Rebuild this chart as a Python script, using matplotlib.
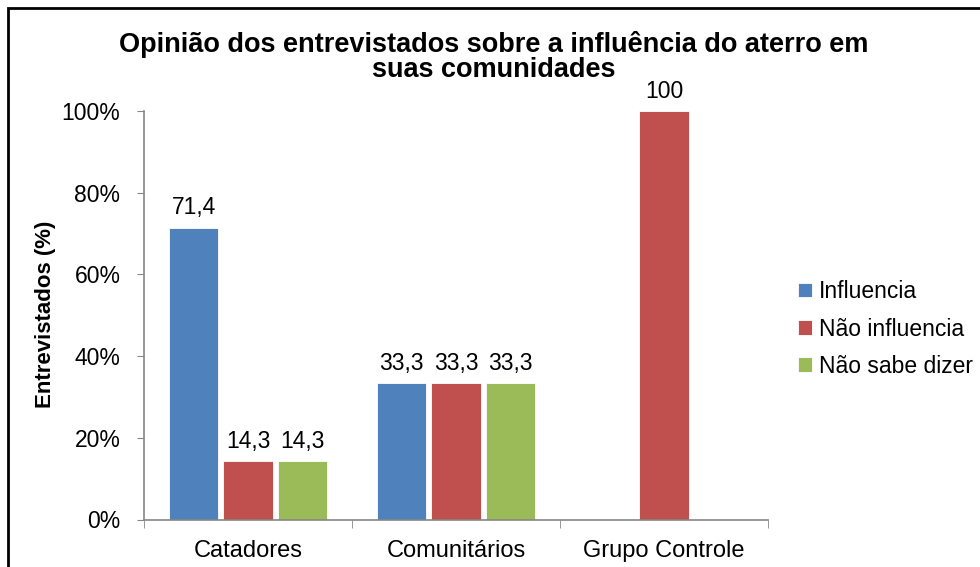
import matplotlib
matplotlib.use("Agg")
import matplotlib.pyplot as plt
from matplotlib.patches import Rectangle
import numpy as np

plt.rcParams['font.family'] = ['Liberation Sans', 'DejaVu Sans']

# dados
categorias = ['Catadores', 'Comunitários', 'Grupo Controle']
series = ['Influencia', 'Não influencia', 'Não sabe dizer']
influencia = [71.4, 33.3, 0]
nao_influencia = [14.3, 33.3, 100]
nao_sabe = [14.3, 33.3, 0]
rotulos_y = ['0%', '20%', '40%', '60%', '80%', '100%']
titulo = ['Opinião dos entrevistados sobre a influência do aterro em', 'suas comunidades']

cores = ['#4F81BD', '#C0504D', '#9BBB59']

fig = plt.figure(figsize=(9.8, 5.67), dpi=100)
ax = fig.add_axes([144 / 980, 1 - 519.5 / 567, (768 - 144) / 980, (519.5 - 111) / 567])

x = np.arange(len(categorias))
passo = 0.262
largura = 0.24

for i, (nome, vals) in enumerate(zip(series, [influencia, nao_influencia, nao_sabe])):
    barras = ax.bar(x + (i - 1) * passo, vals, largura, color=cores[i], label=nome,
                    edgecolor='white', linewidth=0.6)
    for b, v in zip(barras, vals):
        if v > 0:
            txt = ('%.1f' % v).replace('.', ',') if v != int(v) else '%d' % v
            ax.annotate(txt, (b.get_x() + b.get_width() / 2, v), xytext=(0, 6),
                        textcoords='offset points', ha='center', va='bottom', fontsize=16.5)

ax.set_xlim(-0.5, 2.5)
ax.set_ylim(0, 100)
ax.set_yticks(np.arange(0, 101, 20))
ax.set_yticklabels(rotulos_y, fontsize=16.5)
ax.set_xticks(x)
ax.set_xticklabels(categorias, fontsize=17)
ax.set_xticks([-0.5, 0.5, 1.5, 2.5], minor=True)
ax.tick_params(axis='x', which='major', length=0, pad=15)
ax.tick_params(axis='x', which='minor', length=6, color='#868686')
ax.tick_params(axis='y', length=5, color='#868686', pad=12)

for s in ['top', 'right']:
    ax.spines[s].set_visible(False)
for s in ['left', 'bottom']:
    ax.spines[s].set_color('#868686')
    ax.spines[s].set_linewidth(1.2)

fig.text(46 / 980, 1 - 314 / 567, 'Entrevistados (%)', rotation=90, ha='center', va='center',
         fontsize=16, fontweight='bold')

# título em duas linhas
fig.text(494 / 980, 1 - 45 / 567, titulo[0], ha='center', va='center',
         fontsize=19.5, fontweight='bold')
fig.text(494 / 980, 1 - 70 / 567, titulo[1], ha='center', va='center',
         fontsize=19.5, fontweight='bold')

ax.legend(loc='center left', bbox_to_anchor=(798 / 980, 1 - 329 / 567),
          bbox_transform=fig.transFigure, frameon=False, fontsize=16.5,
          handlelength=0.6, handleheight=0.6, handletextpad=0.3, labelspacing=0.62,
          borderaxespad=0, borderpad=0)

# moldura
fig.patches.append(Rectangle((7.5 / 980, -0.1), 1.2, 1 - 7.5 / 567 + 0.1, transform=fig.transFigure,
                             fill=False, edgecolor='black', linewidth=2, clip_on=False))

fig.savefig('out.png', dpi=100)
